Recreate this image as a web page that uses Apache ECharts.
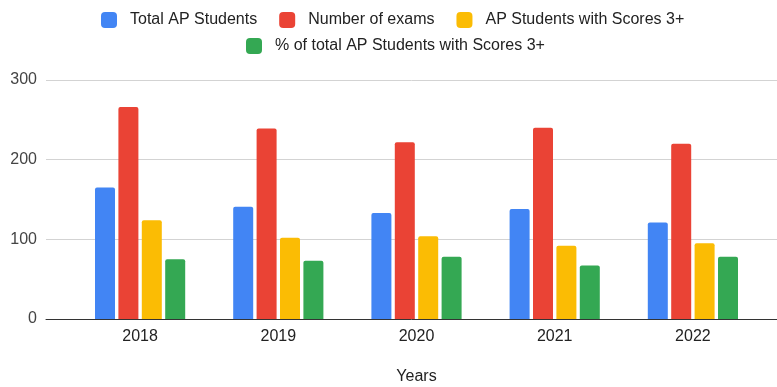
<!DOCTYPE html>
<html>
<head>
<meta charset="utf-8">
<script src="https://cdn.jsdelivr.net/npm/echarts@6/dist/echarts.min.js"></script>
<style>html,body{margin:0;padding:0;background:#fff}#c{width:777px;height:387px}</style>
</head>
<body>
<div id="c"></div>
<script>
const years = ['2018', '2019', '2020', '2021', '2022'];
const totalAPStudents = [165, 141, 133, 138, 121];
const numberOfExams = [266, 239, 222, 240, 220];
const studentsScores3 = [124, 102, 104, 92, 95];
const pctScores3 = [75, 73, 78, 67, 78];
const yTicks = [0, 100, 200, 300];

const seriesNames = ['Total AP Students', 'Number of exams', 'AP Students with Scores 3+', '% of total AP Students with Scores 3+'];
const colors = ['#4285F4', '#EA4335', '#FBBC04', '#34A853'];
const values = [totalAPStudents, numberOfExams, studentsScores3, pctScores3];

const font = '"Liberation Sans", Arial, sans-serif';
const legendText = { fontSize: 16, color: '#222', fontFamily: font, padding: [0, 0, 0, 8] };
const chart = echarts.init(document.getElementById('c'));
chart.setOption({
  animation: false,
  color: colors,
  textStyle: { fontFamily: font },
  legend: [
    { data: seriesNames.slice(0, 3), top: 7, left: 96, itemWidth: 16, itemHeight: 16, itemGap: 22,
      icon: 'roundRect', textStyle: legendText },
    { data: seriesNames.slice(3), top: 33, left: 241, itemWidth: 16, itemHeight: 16, itemGap: 22,
      icon: 'roundRect', textStyle: legendText }
  ],
  grid: [
    { left: 71, right: 15, top: 80, bottom: 68, outerBoundsMode: 'none', containLabel: false },
    { left: 46, right: 0, top: 80, bottom: 68, outerBoundsMode: 'none', containLabel: false }
  ],
  xAxis: [
    { type: 'category', gridIndex: 0, data: years,
      axisLine: { show: false }, axisTick: { show: false },
      axisLabel: { color: '#222', fontSize: 16, margin: 10, fontFamily: font },
      name: 'Years', nameLocation: 'middle', nameGap: 50,
      nameTextStyle: { color: '#222', fontSize: 16, fontFamily: font } },
    { type: 'category', gridIndex: 1, data: [''],
      axisLine: { show: true, lineStyle: { color: '#333', width: 1 } },
      axisTick: { show: false }, axisLabel: { show: false }, z: 10 }
  ],
  yAxis: [
    { type: 'value', gridIndex: 0, min: yTicks[0], max: yTicks[yTicks.length - 1], interval: 100, show: false },
    { type: 'value', gridIndex: 1, min: yTicks[0], max: yTicks[yTicks.length - 1], interval: 100,
      axisLine: { show: false }, axisTick: { show: false },
      axisLabel: { color: '#444', fontSize: 16, margin: 9, fontFamily: font },
      splitLine: { lineStyle: { color: '#d3d3d3', width: 1 } } }
  ],
  series: seriesNames.map((n, i) => ({
    name: n, type: 'bar', xAxisIndex: 0, yAxisIndex: 0,
    data: values[i], barWidth: 20, barGap: '17%',
    itemStyle: { color: colors[i], borderRadius: [2, 2, 0, 0] }
  }))
});
</script>
</body>
</html>
